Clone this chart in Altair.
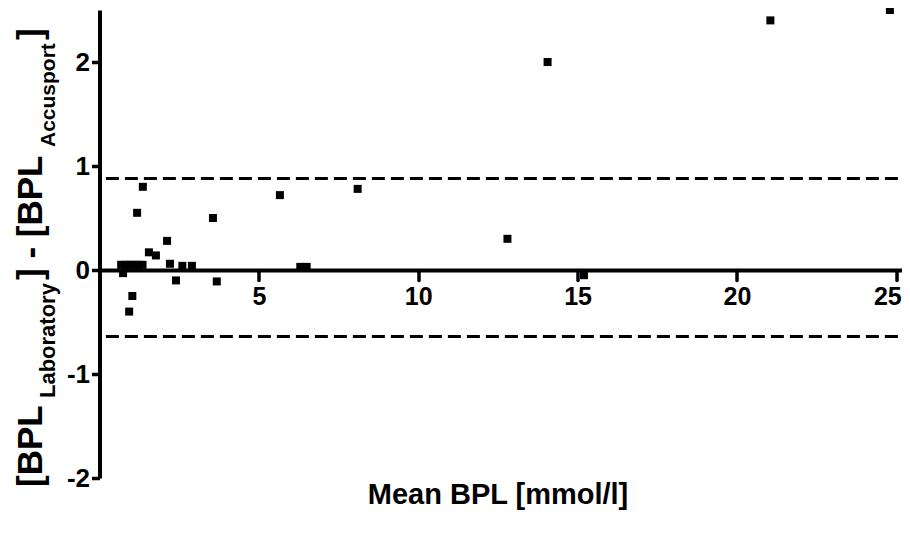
import altair as alt
import pandas as pd

# ---- data ----
mean_bpl = [0.68, 0.82, 0.95, 1.08, 1.22, 1.35, 0.74, 1.36, 1.18, 1.03, 0.93,
            1.55, 1.77, 2.12, 2.21, 2.40, 2.60, 2.90, 3.56, 3.68, 5.66, 6.30,
            6.50, 8.10, 12.80, 14.06, 15.20, 21.05, 24.80]
diff_bpl = [0.05, 0.05, 0.05, 0.05, 0.05, 0.05, -0.03, 0.80, 0.55, -0.25, -0.40,
            0.17, 0.14, 0.28, 0.06, -0.10, 0.04, 0.04, 0.50, -0.11, 0.72, 0.03,
            0.03, 0.78, 0.30, 2.00, -0.05, 2.40, 2.50]
loa_values = [0.88, -0.64]
loa_x_start = [0.2, 0.2]
loa_x_end = [25.15, 25.15]
x_ticks = [5, 10, 15, 20, 25]
y_ticks = [-2, -1, 0, 1, 2]
x_domain = [0, 25.18]
y_domain = [-2, 2.5]
x_title = "Mean BPL [mmol/l]"

W, H = 802.5, 468
FONT = "Liberation Sans"

points = pd.DataFrame({"mean": mean_bpl, "diff": diff_bpl})
loa = pd.DataFrame({"y": loa_values, "x1": loa_x_start, "x2": loa_x_end})

x_off = -H * (0 - y_domain[0]) / (y_domain[1] - y_domain[0])

x_scale = alt.Scale(domain=x_domain, nice=False, zero=False)
y_scale = alt.Scale(domain=y_domain, nice=False, zero=False)

x_axis = alt.Axis(values=x_ticks, labelExpr="toString(datum.value)", offset=x_off, grid=False,
                  domainWidth=4, domainColor="black", tickWidth=3.5, tickColor="black",
                  tickSize=10, tickCap="round", labelFont=FONT, labelFontSize=25,
                  labelFontWeight="bold", labelColor="black", labelPadding=4,
                  labelFlush=10, labelFlushOffset=5,
                  title=x_title, titleFont=FONT, titleFontSize=29, titleFontWeight="bold",
                  titleColor="black", titleX=398, titleY=224, titleAlign="center",
                  titleBaseline="middle", titleAnchor="start")
y_axis = alt.Axis(values=y_ticks, labelExpr="toString(datum.value)", grid=False, title=None,
                  domainWidth=4, domainColor="black", tickWidth=3.5, tickColor="black",
                  tickSize=8, labelFont=FONT, labelFontSize=26, labelFontWeight="bold",
                  labelColor="black", labelPadding=2)

pts = alt.Chart(points).mark_point(shape="square", filled=True, color="black",
                                   size=64, opacity=1).encode(
    x=alt.X("mean:Q", scale=x_scale, axis=x_axis),
    y=alt.Y("diff:Q", scale=y_scale, axis=y_axis),
)

lines = alt.Chart(loa).mark_rule(color="black", strokeWidth=3,
                                 strokeDash=[13, 6]).encode(
    x=alt.X("x1:Q", scale=x_scale),
    x2="x2:Q",
    y=alt.Y("y:Q", scale=y_scale),
)

one = alt.Data(values=[{}])

def piece(txt, ypos, xpos, size, weight="bold"):
    return alt.Chart(one).mark_text(angle=270, align="left", baseline="alphabetic",
                                    font=FONT, fontSize=size, fontWeight=weight,
                                    color="black").encode(
        x=alt.value(xpos), y=alt.value(ypos), text=alt.value(txt))

title_pieces = [
    piece("[BPL", 477, -57.5, 35),
    piece("Laboratory", 388, -45, 22),
    piece("] - [BPL", 270, -57.5, 35),
    piece("Accusport", 137, -45, 21),
    piece("]", 30, -57.5, 35),
]

chart = alt.layer(lines, pts, *title_pieces).properties(
    width=W, height=H,
    background="white",
    autosize=alt.AutoSizeParams(type="none"),
    padding={"left": 91.5, "top": 2, "right": 0, "bottom": 36},
).configure_view(stroke=None)

chart.save("out.html", embed_options={"renderer": "svg", "actions": False})
